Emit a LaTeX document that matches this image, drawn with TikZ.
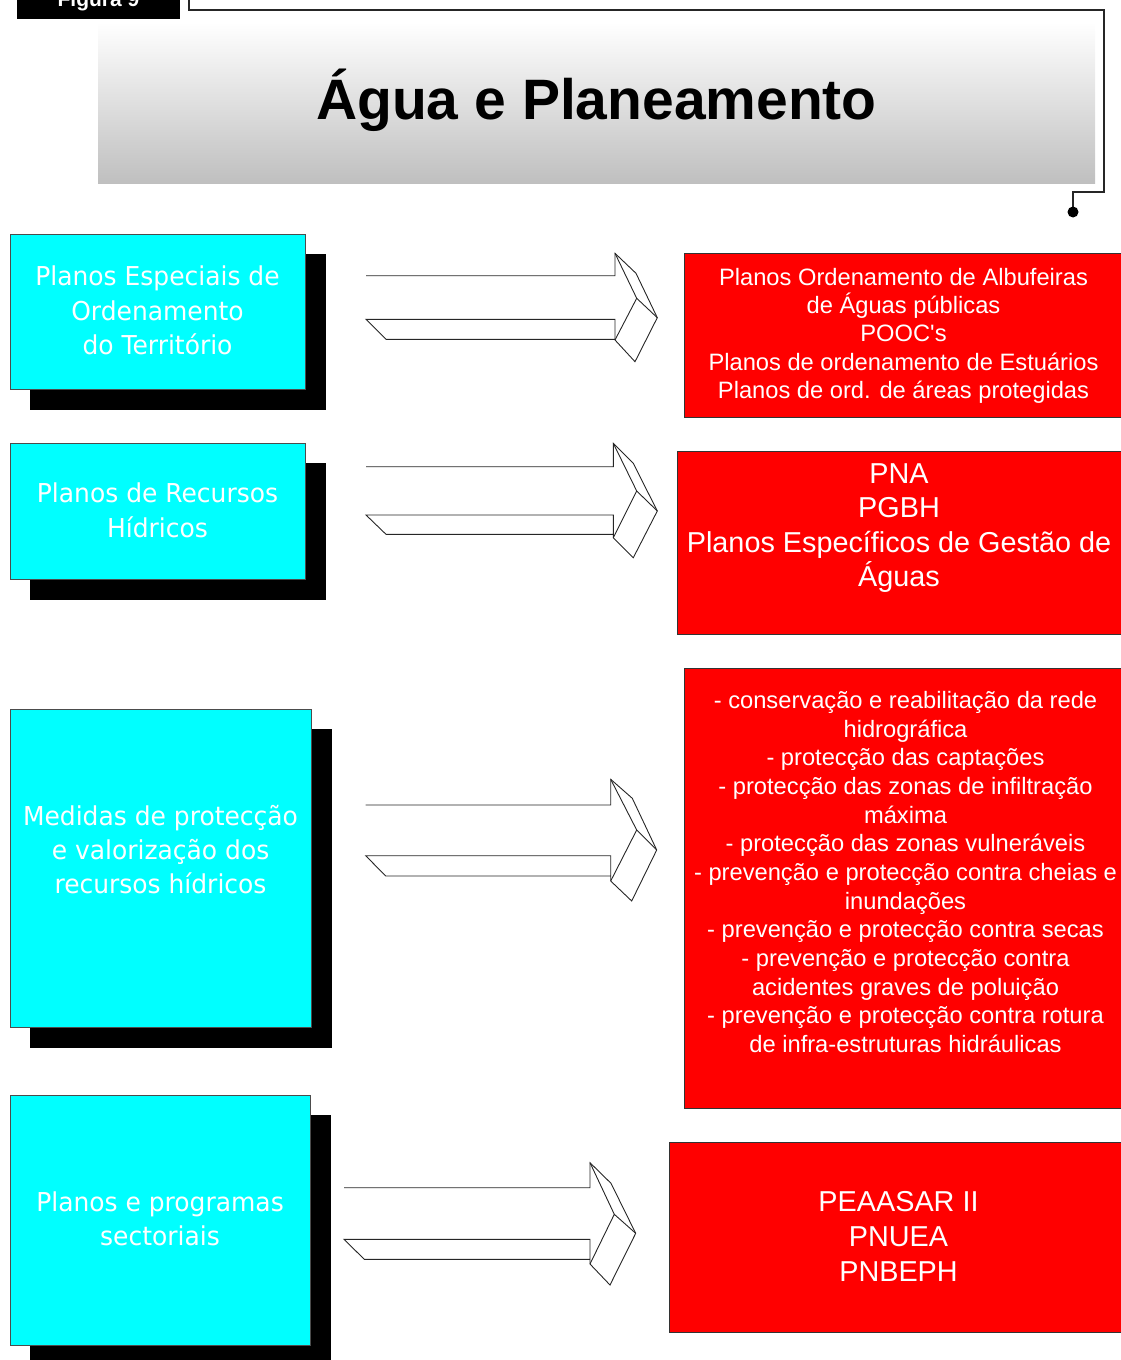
\documentclass[tikz,border=0pt]{standalone}
\usepackage{fontspec}
\setmainfont{Liberation Sans}[Ligatures=TeXOff]
\newfontfamily\tahomalike[FakeStretch=0.96]{DejaVu Sans}
\usetikzlibrary{fit}
\definecolor{aqua}{HTML}{00FFFF}
\definecolor{brightred}{HTML}{FF0000}
\begin{document}
\begin{tikzpicture}[x=1pt,y=-1pt,
  shadowbox/.style={fill=black,draw=none,inner sep=0pt,outer sep=0pt},
  aquabox/.style={fill=aqua,draw=black!70,line width=0.8pt,inner sep=0pt,outer sep=0pt},
  redbox/.style={fill=brightred,draw=black!80,line width=0.8pt,inner sep=0pt,outer sep=0pt},
  aquatext/.style={anchor=base,inner sep=0pt,text=white,font=\tahomalike\fontsize{26}{34}\selectfont},
  smalltext/.style={anchor=base,inner sep=0pt,text=white,font=\fontsize{23.7}{28}\selectfont},
  bigtext/.style={anchor=base,inner sep=0pt,text=white,font=\fontsize{28.8}{34}\selectfont},
  arrowline/.style={draw=black!85,line width=0.9pt,line join=miter},
  frameline/.style={draw=black!85,line width=1.5pt}
]
\useasboundingbox (0,0) rectangle (1121,1360);

% caption tab
\node[shadowbox,fit={(17,-5)(180,19.3)}] (tab) {};
\node[anchor=base,inner sep=0pt,text=white,font=\bfseries\fontsize{21}{24}\selectfont] (tablabel) at (98.5,6.5) {Figura 9};

% frame line ending in a dot
\coordinate (f0) at (189,-3);
\coordinate (f1) at (1073,212);
\draw[frameline] (f0) |- (1104,10) |- (1073,192) -- (f1);
\fill[black] (f1) circle (5.5);

% title banner
\shade[top color=white,bottom color=black!25] (98,22) rectangle (1095,183);
\node[anchor=base,inner sep=0pt,font=\bfseries\fontsize{57}{60}\selectfont] (title) at (596.5,119) {Água e Planeamento};

% left column
\node[shadowbox,fit={(30,254)(326,410)}] (s1) {};
\node[aquabox,fit={(10,234)(305,389)}] (c1) {};
\foreach \t [count=\i from 0] in {{Planos Especiais de},{Ordenamento},{do Território}}
  \node[aquatext] (c1t\i) at (157.5,{285.7+34.3*\i}) {\t};

\node[shadowbox,fit={(30,463)(326,600)}] (s2) {};
\node[aquabox,fit={(10,443)(305,579)}] (c2) {};
\foreach \t [count=\i from 0] in {{Planos de Recursos},{Hídricos}}
  \node[aquatext] (c2t\i) at (157.5,{502.7+34.3*\i}) {\t};

\node[shadowbox,fit={(30,729)(332,1048)}] (s3) {};
\node[aquabox,fit={(10,709)(311,1027)}] (c3) {};
\foreach \t [count=\i from 0] in {{Medidas de protecção},{e valorização dos},{recursos hídricos}}
  \node[aquatext] (c3t\i) at (160.5,{825+34.2*\i}) {\t};

\node[shadowbox,fit={(30,1115)(331,1365)}] (s4) {};
\node[aquabox,fit={(10,1095)(310,1345)}] (c4) {};
\foreach \t [count=\i from 0] in {{Planos e programas},{sectoriais}}
  \node[aquatext] (c4t\i) at (160,{1211.7+33.8*\i}) {\t};

% right column
\node[redbox,fit={(684,253)(1125,417)}] (r1) {};
\foreach \t [count=\i from 0] in {{Planos Ordenamento de Albufeiras},{de Águas públicas},{POOC's},{Planos de ordenamento de Estuários},{Planos de ord. de áreas protegidas}}
  \node[smalltext] (r1t\i) at (903.5,{285+28.4*\i}) {\t};

\node[redbox,fit={(677,451)(1125,634)}] (r2) {};
\foreach \t [count=\i from 0] in {{PNA},{PGBH},{Planos Específicos de Gestão de},{Águas}}
  \node[bigtext] (r2t\i) at (899,{483+34.5*\i}) {\t};

\node[redbox,fit={(684,668)(1125,1108)}] (r3) {};
\foreach \t [count=\i from 0] in {{- conservação e reabilitação da rede},{hidrográfica},{- protecção das captações},{- protecção das zonas de infiltração},{máxima},{- protecção das zonas vulneráveis},{- prevenção e protecção contra cheias e},{inundações},{- prevenção e protecção contra secas},{- prevenção e protecção contra},{acidentes graves de poluição},{- prevenção e protecção contra rotura},{de infra-estruturas hidráulicas}}
  \node[smalltext] (r3t\i) at (905.5,{708.5+28.67*\i}) {\t};

\node[redbox,fit={(669,1142)(1125,1332)}] (r4) {};
\foreach \t [count=\i from 0] in {{PEAASAR II},{PNUEA},{PNBEPH}}
  \node[bigtext] (r4t\i) at (898.5,{1211+35*\i}) {\t};

% block arrows
\draw[arrowline] (366,275.7)--(615,275.7)--(615,253.3)--(636,273.3)--(657.3,317.7)--(635,361.7)--(615,340)--(615,319.3)--(366,319.3)--(386,339.3)--(615,339.3);
\draw[arrowline] (615,253.3)--(636.7,298.3)--(657.3,317.7) (636.7,298.3)--(615,340);

\draw[arrowline] (366,466.7)--(613.3,466.7)--(613.3,443.3)--(633.3,463.3)--(657.3,511)--(633.3,557.7)--(613.3,537.7)--(613.3,515)--(366,515)--(386,534.3)--(613.3,534.3);
\draw[arrowline] (613.3,443.3)--(636.7,491)--(657.3,511) (636.7,491)--(613.3,537.7);

\draw[arrowline] (365.7,805)--(610.7,805)--(610.7,779.3)--(632.3,798.3)--(656.7,850)--(631.7,901)--(610.7,881)--(610.7,855.7)--(365.7,855.7)--(385.7,876)--(610.7,876);
\draw[arrowline] (610.7,779.3)--(636.7,830)--(656.7,850) (636.7,830)--(610.7,881);

\draw[arrowline] (344,1187.7)--(590,1187.7)--(590,1162.7)--(611,1183.3)--(635.7,1233.3)--(610,1285)--(590,1264)--(590,1239.3)--(344,1239.3)--(364.3,1259.3)--(590,1259.3);
\draw[arrowline] (590,1162.7)--(614.3,1214.3)--(635.7,1233.3) (614.3,1214.3)--(590,1264);
\end{tikzpicture}
\end{document}
